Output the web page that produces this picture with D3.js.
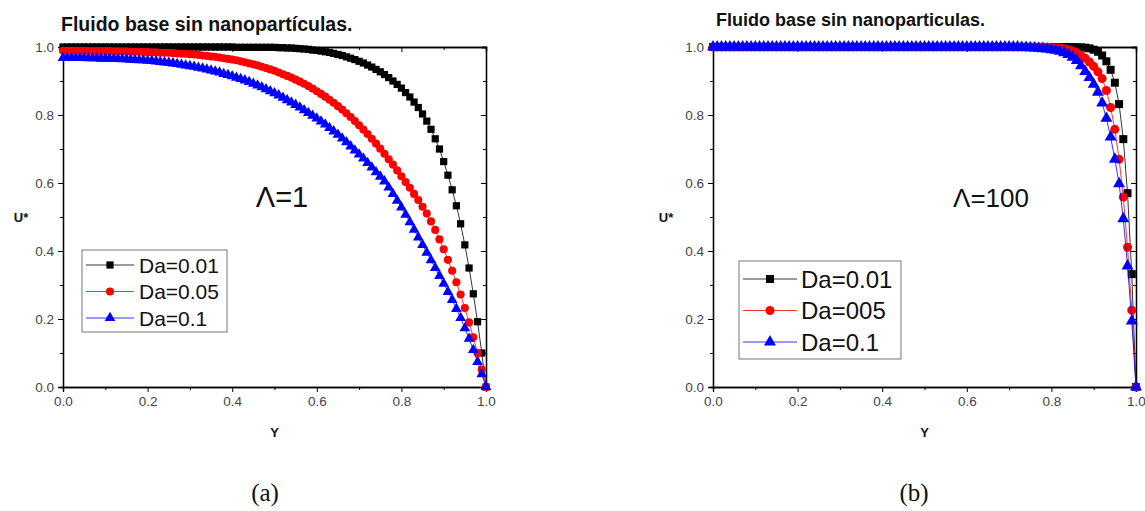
<!DOCTYPE html>
<html lang="es">
<head>
<meta charset="UTF-8">
<title>Fluido base sin nanopartículas</title>
<script src="https://d3js.org/d3.v7.min.js"></script>
<style>
  body { margin: 0; background: #fff; }
  svg { display: block; font-family: Arial, "Liberation Sans", sans-serif; }
  .tick text { fill: #444; font-size: 13.5px; }
  .tick line, .domain { stroke: #000; }
  .titulo { font-weight: bold; fill: #111; }
  .eje-label { font-weight: bold; font-size: 13px; fill: #111; }
  .caption { font-family: "Liberation Serif", "DejaVu Serif", serif; font-size: 25px; fill: #111; }
</style>
</head>
<body>
<svg id="chart" width="1145" height="511"></svg>
<script>
// malla en Y (marcadores cada 0.01)
const yGrid = [
  0.00,0.01,0.02,0.03,0.04,0.05,0.06,0.07,0.08,0.09,
  0.10,0.11,0.12,0.13,0.14,0.15,0.16,0.17,0.18,0.19,
  0.20,0.21,0.22,0.23,0.24,0.25,0.26,0.27,0.28,0.29,
  0.30,0.31,0.32,0.33,0.34,0.35,0.36,0.37,0.38,0.39,
  0.40,0.41,0.42,0.43,0.44,0.45,0.46,0.47,0.48,0.49,
  0.50,0.51,0.52,0.53,0.54,0.55,0.56,0.57,0.58,0.59,
  0.60,0.61,0.62,0.63,0.64,0.65,0.66,0.67,0.68,0.69,
  0.70,0.71,0.72,0.73,0.74,0.75,0.76,0.77,0.78,0.79,
  0.80,0.81,0.82,0.83,0.84,0.85,0.86,0.87,0.88,0.89,
  0.90,0.91,0.92,0.93,0.94,0.95,0.96,0.97,0.98,0.99,
  1.00
];

// (a) Lambda = 1
const aDa001 = [
  1,1,1,1,1,1,1,1,1,1,
  1,1,1,1,1,1,1,1,1,1,
  1,1,1,1,1,1,1,1,1,1,
  1,1,1,1,1,1,1,1,1,1,
  1.000,0.999,0.999,0.999,0.999,0.999,0.999,0.999,0.999,0.999,
  0.999,0.998,0.998,0.997,0.997,0.996,0.995,0.994,0.993,0.991,
  0.990,0.988,0.986,0.984,0.981,0.978,0.975,0.971,0.967,0.963,
  0.958,0.953,0.947,0.941,0.934,0.927,0.919,0.910,0.900,0.890,
  0.879,0.866,0.853,0.838,0.822,0.803,0.782,0.758,0.730,0.700,
  0.663,0.623,0.580,0.533,0.480,0.418,0.350,0.274,0.192,0.100,
  0
];
const aDa005 = [
  0.989,0.989,0.989,0.989,0.989,0.989,0.988,0.988,0.988,0.988,
  0.988,0.988,0.987,0.987,0.987,0.987,0.986,0.986,0.986,0.985,
  0.985,0.984,0.984,0.983,0.983,0.983,0.982,0.981,0.980,0.980,
  0.979,0.978,0.977,0.975,0.974,0.972,0.971,0.969,0.967,0.965,
  0.963,0.961,0.958,0.955,0.952,0.949,0.946,0.942,0.938,0.934,
  0.930,0.925,0.920,0.915,0.910,0.904,0.898,0.892,0.885,0.878,
  0.870,0.862,0.854,0.845,0.836,0.826,0.816,0.805,0.794,0.782,
  0.770,0.757,0.744,0.730,0.716,0.701,0.686,0.670,0.654,0.637,
  0.620,0.603,0.586,0.568,0.550,0.530,0.510,0.487,0.462,0.434,
  0.405,0.374,0.342,0.308,0.272,0.232,0.190,0.146,0.100,0.051,
  0
];
const aDa01 = [
  0.968,0.968,0.968,0.968,0.968,0.968,0.967,0.967,0.967,0.966,
  0.966,0.966,0.965,0.965,0.964,0.964,0.963,0.962,0.961,0.961,
  0.960,0.959,0.958,0.956,0.955,0.954,0.952,0.950,0.948,0.946,
  0.944,0.942,0.939,0.937,0.934,0.931,0.928,0.925,0.921,0.918,
  0.914,0.910,0.906,0.902,0.897,0.892,0.887,0.882,0.876,0.870,
  0.864,0.858,0.851,0.844,0.837,0.830,0.822,0.814,0.806,0.798,
  0.790,0.781,0.772,0.762,0.752,0.742,0.731,0.720,0.708,0.696,
  0.684,0.672,0.659,0.646,0.632,0.619,0.605,0.587,0.568,0.548,
  0.528,0.507,0.485,0.463,0.440,0.418,0.395,0.373,0.350,0.327,
  0.304,0.280,0.256,0.230,0.203,0.173,0.142,0.109,0.074,0.038,
  0
];

// (b) Lambda = 100
const bDa001 = [
  1,1,1,1,1,1,1,1,1,1,
  1,1,1,1,1,1,1,1,1,1,
  1,1,1,1,1,1,1,1,1,1,
  1,1,1,1,1,1,1,1,1,1,
  1,1,1,1,1,1,1,1,1,1,
  1,1,1,1,1,1,1,1,1,1,
  1,1,1,1,1,1,1,1,1,1,
  1,1,1,1,1,1,1,1,1,1,
  1,1,1,1,1,1,0.999,0.999,0.998,0.996,
  0.992,0.986,0.975,0.958,0.933,0.895,0.832,0.729,0.570,0.332,
  0
];
const bDa005 = [
  1,1,1,1,1,1,1,1,1,1,
  1,1,1,1,1,1,1,1,1,1,
  1,1,1,1,1,1,1,1,1,1,
  1,1,1,1,1,1,1,1,1,1,
  1,1,1,1,1,1,1,1,1,1,
  1,1,1,1,1,1,1,1,1,1,
  1,1,1,1,1,1,1,1,1,1,
  1,1,1,1,1,1,1,1,1,0.999,
  0.999,0.998,0.997,0.995,0.992,0.988,0.983,0.976,0.967,0.956,
  0.943,0.927,0.907,0.872,0.822,0.758,0.670,0.559,0.411,0.226,
  0
];
const bDa01 = [
  1,1,1,1,1,1,1,1,1,1,
  1,1,1,1,1,1,1,1,1,1,
  1,1,1,1,1,1,1,1,1,1,
  1,1,1,1,1,1,1,1,1,1,
  1,1,1,1,1,1,1,1,1,1,
  1,1,1,1,1,1,1,1,1,1,
  1,1,1,1,1,1,1,1,1,1,
  1,1,1,0.999,0.999,0.998,0.997,0.996,0.995,0.994,
  0.992,0.990,0.987,0.983,0.978,0.970,0.960,0.945,0.928,0.910,
  0.890,0.867,0.835,0.790,0.735,0.670,0.598,0.495,0.356,0.194,
  0
];

const majorTicks = [0, 0.2, 0.4, 0.6, 0.8, 1.0];
const minorTicks = [0.1, 0.3, 0.5, 0.7, 0.9];
const legendA = ["Da=0.01", "Da=0.05", "Da=0.1"];
const legendB = ["Da=0.01", "Da=005", "Da=0.1"];
const colores = ["#000000", "#ff0000", "#0000ff"];
const simbolos = [d3.symbolSquare, d3.symbolCircle, d3.symbolTriangle];

const svg = d3.select("#chart");
svg.append("rect").attr("width", 1145).attr("height", 511).attr("fill", "#fff");

function dibujarPanel(p) {
  const x = d3.scaleLinear().domain([0, 1]).range([p.left, p.right]);
  const y = d3.scaleLinear().domain([0, 1]).range([p.bottom, p.top]);
  const g = svg.append("g");

  // ejes con ticks mayores y menores
  const fmt = d3.format(".1f");
  g.append("g").attr("transform", `translate(0,${p.bottom})`)
    .call(d3.axisBottom(x).tickValues(majorTicks).tickSize(5).tickPadding(4).tickFormat(fmt));
  g.append("g").attr("transform", `translate(0,${p.bottom})`)
    .call(d3.axisBottom(x).tickValues(minorTicks).tickSize(3).tickFormat(""));
  g.append("g").attr("transform", `translate(${p.left},0)`)
    .call(d3.axisLeft(y).tickValues(majorTicks).tickSize(5).tickPadding(4).tickFormat(fmt));
  g.append("g").attr("transform", `translate(${p.left},0)`)
    .call(d3.axisLeft(y).tickValues(minorTicks).tickSize(3).tickFormat(""));
  g.append("g").attr("transform", `translate(0,${p.top})`)
    .call(d3.axisTop(x).tickValues(majorTicks).tickSize(-5).tickFormat(""));
  g.append("g").attr("transform", `translate(0,${p.top})`)
    .call(d3.axisTop(x).tickValues(minorTicks).tickSize(-3).tickFormat(""));
  g.append("g").attr("transform", `translate(${p.right},0)`)
    .call(d3.axisRight(y).tickValues(majorTicks).tickSize(-5).tickFormat(""));
  g.append("g").attr("transform", `translate(${p.right},0)`)
    .call(d3.axisRight(y).tickValues(minorTicks).tickSize(-3).tickFormat(""));
  g.selectAll(".domain").attr("stroke-width", 1.3);

  // series
  const linea = d3.line().x((d, i) => x(yGrid[i])).y(d => y(d));
  p.series.forEach((serie, k) => {
    g.append("path").datum(serie)
      .attr("fill", "none").attr("stroke", colores[k]).attr("stroke-width", 0.8)
      .attr("d", linea);
    g.append("g").selectAll("path").data(serie).join("path")
      .attr("transform", (d, i) => `translate(${x(yGrid[i])},${y(d)})`)
      .attr("d", d3.symbol(simbolos[k], p.sizes[k]))
      .attr("fill", colores[k]);
  });

  // titulo, rotulos
  g.append("text").attr("class", "titulo")
    .attr("x", p.titleX).attr("y", p.titleY).style("font-size", p.titleSize + "px")
    .text(p.title);
  g.append("text").attr("class", "eje-label")
    .attr("x", p.uX).attr("y", (p.top + p.bottom) / 2 + 5).attr("text-anchor", "middle")
    .text("U*");
  g.append("text").attr("class", "eje-label")
    .attr("x", (p.left + p.right) / 2).attr("y", 437).attr("text-anchor", "middle")
    .text("Y");
  g.append("text")
    .attr("x", p.lambdaX).attr("y", p.lambdaY).attr("text-anchor", "middle")
    .style("font-size", p.lambdaSize + "px").attr("fill", "#111")
    .text(p.lambda);

  // leyenda
  const L = p.legend;
  const lg = g.append("g").attr("transform", `translate(${L.x},${L.y})`);
  lg.append("rect").attr("width", L.w).attr("height", L.h)
    .attr("fill", "#fff").attr("stroke", "#777").attr("stroke-width", 1);
  p.labels.forEach((lab, k) => {
    const cy = L.row0 + k * L.rowH;
    lg.append("line").attr("x1", L.line0).attr("x2", L.line1).attr("y1", cy).attr("y2", cy)
      .attr("stroke", colores[k]).attr("stroke-width", 0.8);
    lg.append("path").attr("transform", `translate(${(L.line0 + L.line1) / 2},${cy})`)
      .attr("d", d3.symbol(simbolos[k], p.sizes[k])).attr("fill", colores[k]);
    lg.append("text").attr("x", L.textX).attr("y", cy).attr("dy", "0.36em")
      .style("font-size", L.fontSize + "px").attr("fill", "#111").text(lab);
  });

  svg.append("text").attr("class", "caption")
    .attr("x", p.captionX).attr("y", 501).attr("text-anchor", "middle").text(p.caption);
}

dibujarPanel({
  left: 63, right: 486, top: 47, bottom: 387,
  series: [aDa001, aDa005, aDa01], sizes: [52, 52, 50],
  title: "Fluido base sin nanopartículas.", titleX: 61, titleY: 31, titleSize: 19.5,
  uX: 21, lambda: "Λ=1", lambdaX: 282, lambdaY: 207, lambdaSize: 29,
  labels: legendA,
  legend: { x: 82, y: 250, w: 145, h: 82, row0: 15, rowH: 26.5, line0: 4, line1: 52, textX: 57, fontSize: 21 },
  caption: "(a)", captionX: 265
});

dibujarPanel({
  left: 713, right: 1136, top: 47, bottom: 387,
  series: [bDa001, bDa005, bDa01], sizes: [64, 64, 62],
  title: "Fluido base sin nanoparticulas.", titleX: 716, titleY: 26, titleSize: 18,
  uX: 666, lambda: "Λ=100", lambdaX: 991, lambdaY: 207, lambdaSize: 26,
  labels: legendB,
  legend: { x: 739, y: 261, w: 162, h: 98, row0: 18, rowH: 31.5, line0: 4, line1: 58, textX: 62, fontSize: 24 },
  caption: "(b)", captionX: 914
});
</script>
</body>
</html>
